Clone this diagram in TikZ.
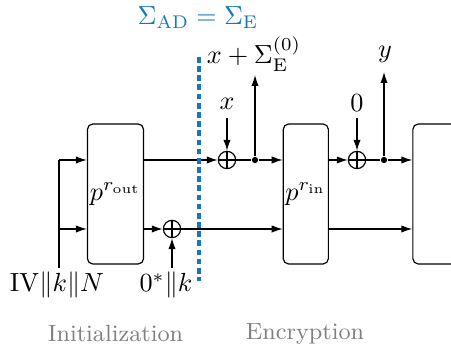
\documentclass[tikz,border=0pt]{standalone}
\usetikzlibrary{arrows.meta}
\definecolor{sigblue}{RGB}{20,120,190}
\begin{document}
\begin{tikzpicture}[x=0.3817pt,y=-0.3817pt,
  box/.style={draw, rounded corners=2pt, line width=0.45pt, inner sep=0pt, minimum height=53.4pt},
  xorn/.style={circle, draw, line width=0.45pt, inner sep=0pt, minimum size=6.6pt,
    path picture={\draw[line width=0.45pt] (path picture bounding box.north) -- (path picture bounding box.south)
      (path picture bounding box.west) -- (path picture bounding box.east);}},
  dotn/.style={circle, fill, inner sep=0pt, minimum size=2.4pt},
  arr/.style={-{Latex[length=4.2pt,width=2.8pt]}, line width=0.45pt},
  ln/.style={line width=0.45pt},
  lab/.style={text=black!50, font=\small, anchor=base},
  txt/.style={anchor=base},
  sep/.style={sigblue, line width=1.3pt, dash pattern=on 2.2pt off 1.3pt},
]
\clip (0,0) rectangle (451,348);
% boxes
\node[box, minimum width=21.4pt] (p1) at (115.5,194) {$p^{r_\mathrm{out}}$};
\node[box, minimum width=17.2pt] (p2) at (305.8,194) {$p^{r_\mathrm{in}}$};
\node[box, minimum width=23pt] (p3) at (443,194) {};
% xors and dots
\node[xorn] (xor1) at (172,229) {};
\node[xorn] (xor2) at (227,160) {};
\node[xorn] (xor3) at (357,160) {};
\node[dotn] (dot1) at (255,160) {};
\node[dotn] (dot2) at (384,160) {};
% texts
\node[txt] (iv) at (57,292) {$\mathrm{IV}\|k\|N$};
\node[txt] (zk) at (166,292) {$0^*\|k$};
\node[txt] (xin) at (227,110) {$x$};
\node[txt] (zin) at (357,112) {$0$};
\node[txt] (xout) at (254,64) {$x+\Sigma_\mathrm{E}^{(0)}$};
\node[txt] (yout) at (385,58) {$y$};
\node[txt, text=sigblue] (sig) at (198,25) {$\Sigma_\mathrm{AD}=\Sigma_\mathrm{E}$};
\node[lab] (init) at (115.5,342) {Initialization};
\node[lab] (enc) at (305,340) {Encryption};
% free ends
\coordinate (ivs) at (59,268);
\coordinate (iva) at (59,160);
\coordinate (ivb) at (59,229);
\coordinate (zks) at (172,268);
\coordinate (xs) at (227,118);
\coordinate (zs) at (357,118);
\coordinate (xt) at (255,75);
\coordinate (yt) at (384,72);
\coordinate (dtop) at (199,57);
\coordinate (dbot) at (199,281);
% connectors
\draw[ln] (ivs) -- (iva);
\draw[arr] (iva) -- (iva -| p1.west);
\draw[arr] (ivb) -- (ivb -| p1.west);
\draw[arr] (p1.east |- xor2) -- (xor2);
\draw[arr] (xs) -- (xor2);
\draw[ln] (xor2) -- (dot1);
\draw[arr] (dot1) -- (p2.west |- dot1);
\draw[arr] (dot1) -- (xt);
\draw[arr] (p2.east |- xor3) -- (xor3);
\draw[arr] (zs) -- (xor3);
\draw[ln] (xor3) -- (dot2);
\draw[arr] (dot2) -- (p3.west |- dot2);
\draw[arr] (dot2) -- (yt);
\draw[arr] (p1.east |- xor1) -- (xor1);
\draw[arr] (zks) -- (xor1);
\draw[arr] (xor1) -- (p2.west |- xor1);
\draw[arr] (p2.east |- xor1) -- (p3.west |- xor1);
% separator
\draw[sep] (dtop) -- (dbot);
\end{tikzpicture}
\end{document}
